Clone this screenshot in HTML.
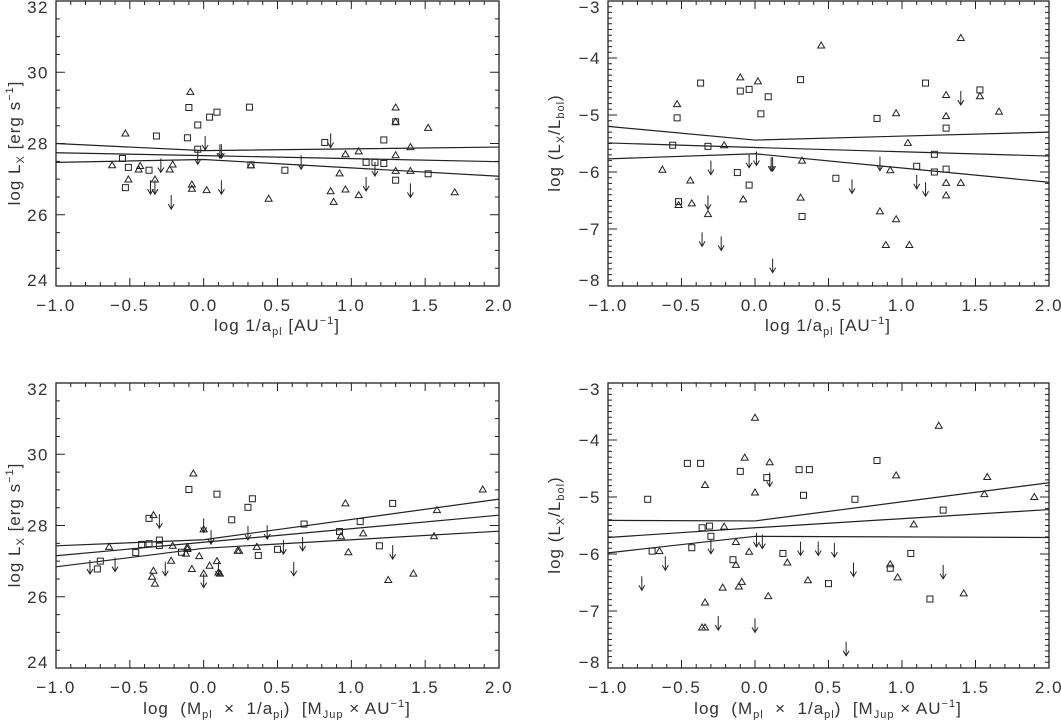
<!DOCTYPE html>
<html><head><meta charset="utf-8"><style>
body{margin:0;background:#fff}
svg{display:block;font-family:"Liberation Sans",sans-serif}
</style></head><body>
<svg id="fig" width="1061" height="720" viewBox="0 0 1061 720" xmlns="http://www.w3.org/2000/svg">
<rect width="1061" height="720" fill="#fff"/>
<g font-size="17" fill="#333" letter-spacing="1">
<text transform="translate(20,143) rotate(-90)" text-anchor="middle">log L<tspan font-size="11" dy="4">X</tspan><tspan dy="-4"> [erg s</tspan><tspan font-size="11" dy="-7">−1</tspan><tspan dy="7">]</tspan></text>
<text x="277" y="331" text-anchor="middle">log  1/a<tspan font-size="11" dy="4">pl</tspan><tspan dy="-4">  [AU</tspan><tspan font-size="11" dy="-7">−1</tspan><tspan dy="7">]</tspan></text>
<text transform="translate(560,143) rotate(-90)" text-anchor="middle">log  (L<tspan font-size="11" dy="4">X</tspan><tspan dy="-4">/L</tspan><tspan font-size="11" dy="4">bol</tspan><tspan dy="-4">)</tspan></text>
<text x="828" y="331" text-anchor="middle">log  1/a<tspan font-size="11" dy="4">pl</tspan><tspan dy="-4">  [AU</tspan><tspan font-size="11" dy="-7">−1</tspan><tspan dy="7">]</tspan></text>
<text transform="translate(20,525) rotate(-90)" text-anchor="middle">log L<tspan font-size="11" dy="4">X</tspan><tspan dy="-4"> [erg s</tspan><tspan font-size="11" dy="-7">−1</tspan><tspan dy="7">]</tspan></text>
<text x="277" y="714" text-anchor="middle" xml:space="preserve">log  (M<tspan font-size="11" dy="4">pl</tspan><tspan dy="-4">  ×  1/a</tspan><tspan font-size="11" dy="4">pl</tspan><tspan dy="-4">)  [M</tspan><tspan font-size="11" dy="4">Jup</tspan><tspan dy="-4"> × AU</tspan><tspan font-size="11" dy="-7">−1</tspan><tspan dy="7">]</tspan></text>
<text transform="translate(560,525) rotate(-90)" text-anchor="middle">log  (L<tspan font-size="11" dy="4">X</tspan><tspan dy="-4">/L</tspan><tspan font-size="11" dy="4">bol</tspan><tspan dy="-4">)</tspan></text>
<text x="828" y="714" text-anchor="middle" xml:space="preserve">log  (M<tspan font-size="11" dy="4">pl</tspan><tspan dy="-4">  ×  1/a</tspan><tspan font-size="11" dy="4">pl</tspan><tspan dy="-4">)  [M</tspan><tspan font-size="11" dy="4">Jup</tspan><tspan dy="-4"> × AU</tspan><tspan font-size="11" dy="-7">−1</tspan><tspan dy="7">]</tspan></text>
</g>
</svg>
<script>
const xTicks = [-1.0, -0.5, 0.0, 0.5, 1.0, 1.5, 2.0];
const xTickLabels = ["−1.0", "−0.5", "0.0", "0.5", "1.0", "1.5", "2.0"];
const lxTicks = [24, 26, 28, 30, 32];
const lxTickLabels = ["24", "26", "28", "30", "32"];
const ratioTicks = [-8, -7, -6, -5, -4, -3];
const ratioTickLabels = ["−8", "−7", "−6", "−5", "−4", "−3"];
const fitX = [-1, 0, 2];

// top-left
const tlTriX = [-0.62,-0.53,-0.51,-0.44,-0.43,-0.33,-0.23,-0.21,-0.09,-0.08,-0.08,0.02,0.32,0.44,0.86,0.88,0.92,0.96,0.96,1.05,1.05,1.30,1.30,1.30,1.30,1.40,1.40,1.52,1.70];
const tlTriY = [27.39,28.28,26.99,27.27,27.37,26.99,27.27,27.41,29.45,26.85,26.73,26.69,27.39,26.45,26.66,26.36,27.16,27.70,26.71,27.78,26.55,29.01,28.61,27.67,27.23,27.90,27.23,28.44,26.63];
const tlSqX = [-0.55,-0.51,-0.53,-0.37,-0.32,-0.11,-0.10,-0.04,-0.04,0.04,0.09,0.31,0.32,0.55,0.82,1.10,1.16,1.22,1.22,1.30,1.30,1.52];
const tlSqY = [27.58,27.33,26.76,27.25,28.21,28.16,29.01,28.52,27.84,28.74,28.88,29.02,27.40,27.25,28.03,27.47,27.47,28.10,27.44,28.61,26.97,27.15];
const tlArX = [-0.36,-0.33,-0.29,-0.22,-0.04,0.01,0.11,0.12,0.12,0.66,0.86,1.10,1.16,1.40];
const tlArY = [26.97,26.97,27.58,26.55,27.81,28.21,27.98,27.98,26.97,27.67,28.28,27.06,27.48,26.88];
const tlFitUp = [28.00,27.80,27.90];
const tlFitMid = [27.74,27.66,27.49];
const tlFitLow = [27.47,27.55,27.08];

// top-right
const trTriX = [-0.63,-0.53,-0.52,-0.44,-0.43,-0.32,-0.21,-0.10,-0.08,0.02,0.32,0.31,0.45,0.85,0.89,0.92,0.96,0.96,1.04,1.05,1.30,1.30,1.30,1.30,1.40,1.40,1.53,1.66];
const trTriY = [-5.96,-4.81,-6.58,-6.15,-6.55,-6.74,-5.53,-4.34,-6.48,-4.41,-5.80,-6.45,-3.78,-6.69,-7.28,-5.97,-4.97,-6.83,-5.49,-7.28,-4.65,-5.02,-6.19,-6.41,-3.65,-6.19,-4.67,-4.94];
const trSqX = [-0.56,-0.53,-0.52,-0.37,-0.32,-0.12,-0.10,-0.04,-0.04,0.04,0.09,0.31,0.32,0.55,0.83,1.10,1.16,1.22,1.22,1.30,1.30,1.53];
const trSqY = [-5.53,-5.05,-6.52,-4.44,-5.55,-6.01,-4.58,-4.55,-6.23,-4.98,-4.68,-4.38,-6.78,-6.11,-5.06,-5.90,-4.44,-5.69,-6.00,-5.23,-5.95,-4.56];
const trArX = [-0.36,-0.32,-0.30,-0.23,-0.04,0.01,0.11,0.12,0.12,0.66,0.85,1.10,1.16,1.40];
const trArY = [-7.06,-6.41,-5.80,-7.13,-5.68,-5.64,-5.74,-5.74,-7.52,-6.13,-5.73,-6.05,-6.18,-4.58];
const trFitUp = [-5.20,-5.44,-5.30];
const trFitMid = [-5.49,-5.57,-5.72];
const trFitLow = [-5.77,-5.68,-6.18];

// bottom-left
const blTriX = [-0.64,-0.34,-0.34,-0.35,-0.33,-0.21,-0.22,-0.12,-0.11,-0.11,-0.08,-0.07,-0.03,0.00,0.00,0.04,0.09,0.10,0.11,0.23,0.24,0.36,0.93,0.96,0.98,1.08,1.25,1.42,1.56,1.58,1.89];
const blTriY = [27.40,28.29,26.73,26.56,26.37,27.43,27.01,27.21,27.40,27.34,26.78,29.46,27.14,26.65,27.89,26.87,27.00,26.68,26.65,27.29,27.29,27.40,27.70,28.62,27.25,27.78,26.47,26.65,27.70,28.43,29.01];
const blSqX = [-0.72,-0.70,-0.46,-0.42,-0.37,-0.37,-0.30,-0.30,-0.15,-0.10,0.09,0.19,0.30,0.33,0.37,0.50,0.68,0.92,1.06,1.19,1.28];
const blSqY = [26.78,27.00,27.24,27.47,28.20,27.49,27.59,27.44,27.25,29.01,28.88,28.16,28.51,28.75,27.16,27.33,28.04,27.83,28.11,27.43,28.62];
const blArX = [-0.77,-0.60,-0.30,-0.26,0.00,0.05,0.00,0.10,0.30,0.43,0.54,0.67,0.61,1.28];
const blArY = [27.03,27.10,28.32,26.98,28.20,27.87,26.65,26.98,27.99,28.01,27.59,27.68,26.98,27.45];
const blFitUp = [27.43,27.60,28.74];
const blFitMid = [27.15,27.53,28.29];
const blFitLow = [26.84,27.36,27.84];

// bottom-right
const brTriX = [-0.65,-0.34,-0.34,-0.36,-0.34,-0.22,-0.21,-0.13,-0.13,-0.11,-0.09,-0.07,-0.04,0.00,0.00,0.09,0.10,0.22,0.36,0.92,0.96,0.97,1.08,1.25,1.42,1.56,1.58,1.90];
const brTriY = [-5.95,-4.79,-6.85,-7.29,-7.29,-6.59,-5.52,-5.79,-6.19,-6.57,-6.49,-4.31,-5.96,-3.61,-4.92,-6.74,-4.39,-6.15,-6.46,-6.18,-4.62,-6.41,-5.48,-3.75,-6.69,-4.95,-4.65,-5.00];
const brSqX = [-0.73,-0.70,-0.46,-0.43,-0.37,-0.36,-0.31,-0.30,-0.15,-0.10,0.08,0.19,0.30,0.37,0.33,0.68,0.83,0.92,1.06,1.19,1.28,0.50];
const brSqY = [-5.04,-5.95,-4.41,-5.89,-4.41,-5.54,-5.51,-5.69,-6.10,-4.55,-4.66,-5.99,-4.52,-4.52,-4.97,-5.04,-4.36,-6.25,-5.99,-6.79,-5.23,-6.52];
const brArX = [-0.77,-0.61,-0.30,-0.25,0.00,0.01,0.05,0.10,0.31,0.43,0.54,0.67,0.62,1.28];
const brArY = [-6.39,-6.04,-5.75,-7.09,-7.13,-5.63,-5.66,-4.57,-5.78,-5.78,-5.81,-6.15,-7.54,-6.19];
const brFitUp = [-5.41,-5.42,-4.75];
const brFitMid = [-5.71,-5.54,-5.22];
const brFitLow = [-5.98,-5.69,-5.71];

const NS = "http://www.w3.org/2000/svg";
const svg = document.getElementById("fig");
function mk(tag, attrs, parent) {
  const e = document.createElementNS(NS, tag);
  for (const k in attrs) e.setAttribute(k, attrs[k]);
  parent.appendChild(e);
  return e;
}

function panel(name, box, yMin, yMax, yT, yTL, yMinorStep, triX, triY, sqX, sqY, arX, arY, up, mid, low) {
  const g = mk("g", {}, svg);
  
  
  const sx = v => box.l + (v + 1) / 3 * (box.r - box.l);
  const sy = v => box.b - (v - yMin) / (yMax - yMin) * (box.b - box.t);
  const frame = mk("rect", {x: box.l, y: box.t, width: box.r - box.l, height: box.b - box.t, fill: "none", stroke: "#222", "stroke-width": 1.3}, g);
  
  
  let d = "";
  for (let i = 0; i <= 30; i++) {
    const v = -1 + i * 0.1, x = sx(v);
    const len = (i % 5 === 0) ? 8 : 4;
    d += `M${x},${box.b}v${-len}M${x},${box.t}v${len}`;
  }
  const nMinor = Math.round((yMax - yMin) / yMinorStep);
  for (let i = 0; i <= nMinor; i++) {
    const v = yMin + i * yMinorStep, y = sy(v);
    const major = yT.some(t => Math.abs(t - v) < 1e-6);
    const len = major ? 9 : 4;
    d += `M${box.l},${y}h${len}M${box.r},${y}h${-len}`;
  }
  const ticks = mk("path", {d: d, stroke: "#222", "stroke-width": 1, fill: "none"}, g);
  
  
  xTicks.forEach((v, i) => {
    const t = mk("text", {x: sx(v), y: box.b + 25, "text-anchor": "middle", "font-size": 17, "letter-spacing": 1.5, fill: "#333"}, g);
    t.textContent = xTickLabels[i];
    
    
  });
  yT.forEach((v, i) => {
    let y = sy(v) + 6;
    if (i === 0) y = Math.min(y, box.b);
    if (i === yT.length - 1) y = Math.max(y, box.t + 12);
    const t = mk("text", {x: box.l - 7, y: y, "text-anchor": "end", "font-size": 17, "letter-spacing": 1.5, fill: "#333"}, g);
    t.textContent = yTL[i];
    
    
  });
  [up, mid, low].forEach((arr, k) => {
    const pts = fitX.map((x, i) => sx(x) + "," + sy(arr[i])).join(" ");
    const pl = mk("polyline", {points: pts, fill: "none", stroke: "#222", "stroke-width": 1.2}, g);
    
    
  });
  triX.forEach((x, i) => {
    const cx = sx(x), cy = sy(triY[i]);
    const p = mk("path", {d: `M${cx},${cy - 3.5}L${cx + 3.5},${cy + 2.5}L${cx - 3.5},${cy + 2.5}Z`, fill: "none", stroke: "#222", "stroke-width": 1}, g);
    
    
  });
  sqX.forEach((x, i) => {
    const cx = sx(x), cy = sy(sqY[i]);
    const r = mk("rect", {x: cx - 3, y: cy - 3, width: 6, height: 6, fill: "none", stroke: "#222", "stroke-width": 1}, g);
    
    
  });
  arX.forEach((x, i) => {
    const cx = sx(x), cy = sy(arY[i]);
    const p = mk("path", {d: `M${cx},${cy}v14M${cx - 3},${cy + 9}L${cx},${cy + 14}L${cx + 3},${cy + 9}`, fill: "none", stroke: "#222", "stroke-width": 1}, g);
    
    
  });
}

panel("top-left-panel", {l: 56, r: 499, t: 1, b: 286}, 24, 32, lxTicks, lxTickLabels, 0.5,
  tlTriX, tlTriY, tlSqX, tlSqY, tlArX, tlArY, tlFitUp, tlFitMid, tlFitLow);
panel("top-right-panel", {l: 608, r: 1049, t: 1, b: 286}, -8, -3, ratioTicks, ratioTickLabels, 0.1,
  trTriX, trTriY, trSqX, trSqY, trArX, trArY, trFitUp, trFitMid, trFitLow);
panel("bottom-left-panel", {l: 56, r: 499, t: 383, b: 668}, 24, 32, lxTicks, lxTickLabels, 0.5,
  blTriX, blTriY, blSqX, blSqY, blArX, blArY, blFitUp, blFitMid, blFitLow);
panel("bottom-right-panel", {l: 608, r: 1049, t: 383, b: 668}, -8, -3, ratioTicks, ratioTickLabels, 0.1,
  brTriX, brTriY, brSqX, brSqY, brArX, brArY, brFitUp, brFitMid, brFitLow);
</script>
</body></html>
